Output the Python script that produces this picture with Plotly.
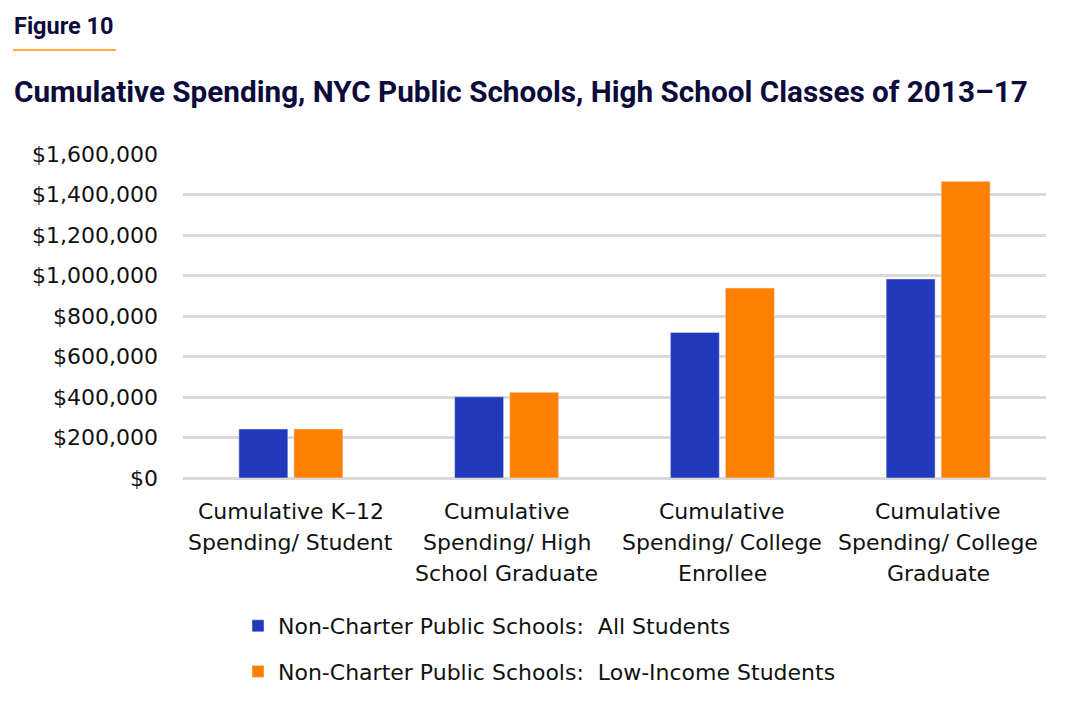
import plotly.graph_objects as go

categories = [
    "Cumulative K\u201312<br>Spending/ Student",
    "Cumulative<br>Spending/ High<br>School Graduate",
    "Cumulative<br>Spending/ College<br>Enrollee",
    "Cumulative<br>Spending/ College<br>Graduate",
]
all_students = [242000, 401000, 719000, 983000]
low_income = [242000, 423000, 938000, 1465000]
series_names = [
    "Non-Charter Public Schools:  All Students",
    "Non-Charter Public Schools:  Low-Income Students",
]
tick_vals = [0, 200000, 400000, 600000, 800000, 1000000, 1200000, 1400000, 1600000]
tick_text = ["$" + format(v, ",") for v in tick_vals]

# page body has an 8px margin, so work in screen pixels minus 8
OFF = 8
W, H = 1072 - OFF, 715 - OFF
L, R, T, B = 183 - OFF, 26, 154 - OFF, 715 - 478
pw, ph = W - L - R, H - T - B

FONT = "DejaVu Sans, Verdana, sans-serif"
HEAD = "Roboto, sans-serif"
NAVY = "#0c0c3c"
TXT = "#111111"


def px(x):
    return (x - OFF - L) / pw


def py(y):
    return (H - B - (y - OFF)) / ph


fig = go.Figure()
fig.add_trace(go.Bar(x=categories, y=all_students, name=series_names[0],
                     marker_color="#2139bb", legendgroup="a"))
fig.add_trace(go.Bar(x=categories, y=low_income, name=series_names[1],
                     marker_color="#ff8000", legendgroup="b"))

fig.update_layout(
    width=W, height=H,
    margin=dict(l=L, r=R, t=T, b=B),
    paper_bgcolor="white", plot_bgcolor="white",
    barmode="group", bargap=0.49, bargroupgap=0.11,
    font=dict(family=FONT, size=22, color=TXT),
    showlegend=True,
    legend=dict(x=px(238), y=py(605), xanchor="left", yanchor="top",
                font=dict(family=FONT, size=22, color=TXT), tracegroupgap=14,
                bgcolor="rgba(0,0,0,0)"),
)
fig.update_yaxes(range=[0, 1600000], tickvals=tick_vals, ticktext=tick_text,
                 showgrid=True, gridcolor="#d9d9d9", gridwidth=2.5,
                 zeroline=True, zerolinecolor="#d9d9d9", zerolinewidth=2.5,
                 showline=False, ticks="", ticklabelstandoff=24,
                 tickfont=dict(family=FONT, size=22, color=TXT))
fig.update_xaxes(showticklabels=False, showline=False, ticks="")

# category labels, one annotation per line for the wider line spacing
for cat in categories:
    for i, line in enumerate(cat.split("<br>")):
        fig.add_annotation(x=cat, y=py(511 + 31 * i), xref="x", yref="paper",
                           text=line, showarrow=False, xanchor="center",
                           yanchor="middle", font=dict(family=FONT, size=22, color=TXT))

fig.add_annotation(x=px(12), y=py(26), xref="paper", yref="paper",
                   text="<b>Figure 10</b>", showarrow=False, xanchor="left",
                   yanchor="middle",
                   font=dict(family=HEAD, size=23.5, color=NAVY, weight=900))
fig.add_shape(type="line", xref="paper", yref="paper",
              x0=px(13), x1=px(116), y0=py(50), y1=py(50),
              line=dict(color="#ff9200", width=1.5))
fig.add_annotation(x=px(12), y=py(91), xref="paper", yref="paper",
                   text="<b>Cumulative Spending, NYC Public Schools, High School Classes of 2013\u201317</b>",
                   showarrow=False, xanchor="left", yanchor="middle",
                   font=dict(family=HEAD, size=29.7, color=NAVY, weight=900))

fig.write_html("out.html")
